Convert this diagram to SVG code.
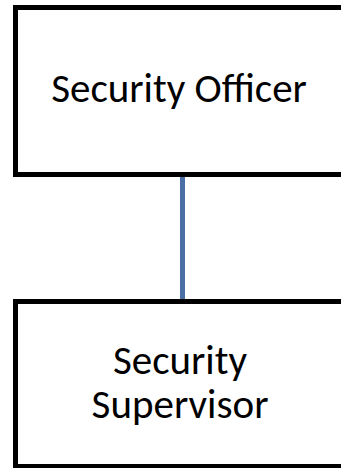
<svg xmlns="http://www.w3.org/2000/svg" width="341" height="468" viewBox="0 0 341 468">
<style>
.box{fill:#ffffff;stroke:#000000;stroke-width:5}
.lbl{font-family:Carlito,"Liberation Sans",Arial,sans-serif;font-size:41px;fill:#000000;text-anchor:middle}
.conn{stroke:#4a6fa5;stroke-width:5;fill:none}
</style>
<rect width="341" height="468" fill="#ffffff"/>
<g id="connectors">
<line class="conn" x1="182.5" y1="174.5" x2="182.5" y2="301.5"/>
</g>
<g id="security-officer">
<rect class="box" x="15.5" y="7.5" width="337" height="167"/>
<text class="lbl" x="179" y="102">Security Officer</text>
</g>
<g id="security-supervisor">
<rect class="box" x="15.5" y="301.5" width="337" height="165"/>
<text class="lbl" x="180" y="374">Security</text>
<text class="lbl" x="180" y="418">Supervisor</text>
</g>
</svg>
